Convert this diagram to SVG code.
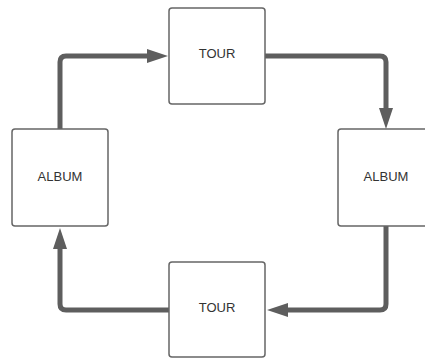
<svg xmlns="http://www.w3.org/2000/svg" width="425" height="358" viewBox="0 0 425 358">
<style>
.box{fill:#ffffff;stroke:#666666;stroke-width:1.5}
.lbl{font-family:"Liberation Sans",Arial,sans-serif;font-size:13px;fill:#333333;text-anchor:middle}
.conn{fill:none;stroke:#5e5e5e;stroke-width:5;stroke-linejoin:round}
.head{fill:#5e5e5e}
</style>
<rect width="425" height="358" fill="#ffffff"/>
<g id="connectors">
<path class="conn" d="M60,129 V62 Q60,56 66,56 H150"/>
<polygon class="head" points="168,56 147,49 147,63"/>
<path class="conn" d="M265,56 H380 Q386,56 386,62 V110"/>
<polygon class="head" points="386,129 379,108 393,108"/>
<path class="conn" d="M386,226 V304 Q386,310 380,310 H285"/>
<polygon class="head" points="267,310 288,303 288,317"/>
<path class="conn" d="M169,310 H66 Q60,310 60,304 V246"/>
<polygon class="head" points="60,228 53,249 67,249"/>
</g>
<g id="tour-top">
<rect class="box" x="169" y="8" width="96" height="96" rx="3"/>
<text class="lbl" x="217" y="58.3">TOUR</text>
</g>
<g id="album-left">
<rect class="box" x="12" y="129" width="96" height="97" rx="3"/>
<text class="lbl" x="60" y="180.5">ALBUM</text>
</g>
<g id="album-right">
<rect class="box" x="338" y="129" width="96" height="97" rx="3"/>
<text class="lbl" x="386" y="180.5">ALBUM</text>
</g>
<g id="tour-bottom">
<rect class="box" x="169" y="262" width="96" height="95" rx="3"/>
<text class="lbl" x="217" y="312.3">TOUR</text>
</g>
</svg>
